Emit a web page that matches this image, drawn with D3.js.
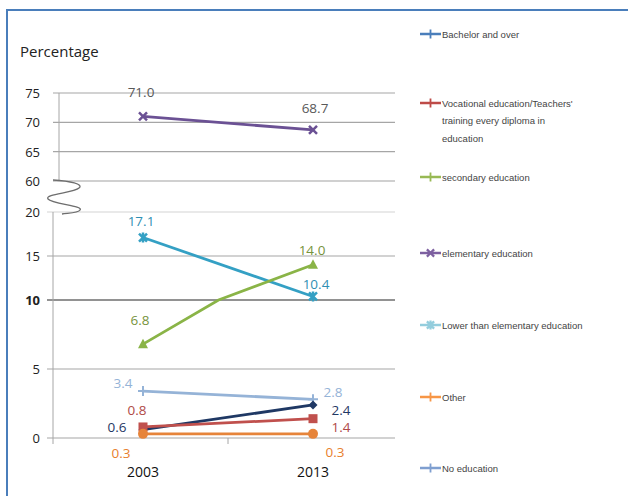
<!DOCTYPE html>
<html><head><meta charset="utf-8">
<script src="https://cdn.jsdelivr.net/npm/d3@7"></script>
<style>body{margin:0;background:#fff}svg{display:block}</style>
</head><body>
<script>
// ---- data ----
const years = ["2003", "2013"];
const seriesNames = ["Bachelor and over", "Vocational education/Teachers' training every diploma in education", "secondary education", "elementary education", "Lower than elementary education", "Other", "No education"];
const bachelor = [0.6, 2.4];
const vocational = [0.8, 1.4];
const secondary = [6.8, 14.0];
const elementary = [71.0, 68.7];
const lowerElem = [17.1, 10.4];
const other = [0.3, 0.3];
const noEdu = [3.4, 2.8];
const upperTicks = [60, 65, 70, 75];
const lowerTicks = [0, 5, 10, 15, 20];

// ---- styles ----
const styles = [
  {vals: bachelor, line: "#1f3864", text: "#1f3864", legend: "#4a7ebb", marker: "diamond", lab: [[-26, 2], [28, 10]]},
  {vals: vocational, line: "#c0504d", text: "#b04a47", legend: "#be4b48", marker: "square", lab: [[-6, -12], [28, 13]]},
  {vals: secondary, line: "#8ab447", text: "#77933c", legend: "#98b954", marker: "triangle", lab: [[-3, -19], [-1, -10]]},
  {vals: elementary, line: "#6b5194", text: "#595959", legend: "#7d60a0", marker: "x", lab: [[-2, -19], [2, -17]]},
  {vals: lowerElem, line: "#34a0c4", text: "#2f8fb3", legend: "#93cddd", marker: "star", lab: [[-2, -12], [3, -7]]},
  {vals: other, line: "#e6843a", text: "#e8802e", legend: "#f79646", marker: "circle", lab: [[-22, 24], [22, 23]]},
  {vals: noEdu, line: "#95b3d7", text: "#95b3d7", legend: "#7f9fd0", marker: "plus", lab: [[-20, -3], [20, -2]]}
];
const font = "'Open Sans', 'DejaVu Sans', sans-serif";

const W = 628, H = 496;
const svg = d3.select("body").append("svg").attr("width", W).attr("height", H);

// border
svg.append("line").attr("x1", 7).attr("x2", W).attr("y1", 10).attr("y2", 10).attr("stroke", "#4a7ebb").attr("stroke-width", 2);
svg.append("line").attr("x1", 7).attr("x2", 7).attr("y1", 9).attr("y2", H).attr("stroke", "#4a7ebb").attr("stroke-width", 2);

// scales (broken axis)
const y = d3.scaleLinear().domain([0, 10, 20, 60, 75]).range([438, 300, 212, 181, 93]);
const x = d3.scaleBand().domain(years).range([58, 398]);
const cx = d => x(d) + x.bandwidth() / 2;

// gridlines
const gl = svg.append("g");
upperTicks.forEach(t => {
  gl.append("line").attr("x1", 53).attr("x2", 395).attr("y1", y(t)).attr("y2", y(t))
    .attr("stroke", t === 60 ? "#d0d0d0" : "#a6a6a6").attr("stroke-width", t === 60 ? 2 : 1.2);
});
lowerTicks.forEach(t => {
  gl.append("line").attr("x1", 47).attr("x2", 395).attr("y1", y(t)).attr("y2", y(t))
    .attr("stroke", t === 10 ? "#6e6e6e" : (t === 20 ? "#d4d4d4" : "#a6a6a6")).attr("stroke-width", t === 10 ? 1.5 : 1.2);
});
// axis lines
gl.append("line").attr("x1", 59).attr("x2", 59).attr("y1", y(75)).attr("y2", y(60)).attr("stroke", "#a6a6a6");
gl.append("line").attr("x1", 53).attr("x2", 53).attr("y1", y(20)).attr("y2", y(0) + 6).attr("stroke", "#a6a6a6");
// middle category tick
gl.append("line").attr("x1", 58 + x.bandwidth()).attr("x2", 58 + x.bandwidth()).attr("y1", y(0)).attr("y2", y(0) + 6).attr("stroke", "#a6a6a6");
// squiggle
gl.append("path").attr("d", "M53,180 C70,181 84,184 79,188 C74,193 44,194 48,199 C52,204 84,206 80,210 C78,213 68,213 62,214")
  .attr("fill", "none").attr("stroke", "#6e6e6e").attr("stroke-width", 1.3);

// tick labels
[...upperTicks, ...lowerTicks].forEach(t => {
  svg.append("text").attr("x", 40).attr("y", y(t) + 5).attr("text-anchor", "end")
    .attr("font-family", font).attr("font-size", 13).attr("fill", "#222")
    .attr("font-weight", t === 10 ? "bold" : "normal").text(t);
});
svg.append("text").attr("x", 20).attr("y", 57).attr("font-family", font).attr("font-size", 15).attr("fill", "#222").text("Percentage");
years.forEach(yr => {
  svg.append("text").attr("x", cx(yr)).attr("y", 477).attr("text-anchor", "middle")
    .attr("font-family", font).attr("font-size", 14).attr("fill", "#111").text(yr);
});

// marker drawer
function marker(g, type, color, px, py, s) {
  s = s || 1;
  const m = g.append("g").attr("transform", `translate(${px},${py}) scale(${s})`);
  if (type === "diamond") m.append("path").attr("d", "M0,-4.5L4.5,0L0,4.5L-4.5,0Z").attr("fill", color);
  else if (type === "square") m.append("rect").attr("x", -4.5).attr("y", -4.5).attr("width", 9).attr("height", 9).attr("fill", color);
  else if (type === "triangle") m.append("path").attr("d", "M0,-5.5L5,4L-5,4Z").attr("fill", color);
  else if (type === "circle") m.append("circle").attr("r", 5).attr("fill", color);
  else if (type === "x") m.append("path").attr("d", "M-4,-4L4,4M4,-4L-4,4").attr("stroke", color).attr("stroke-width", 2.5).attr("fill", "none");
  else if (type === "star") m.append("path").attr("d", "M-4,-4L4,4M4,-4L-4,4M0,-5L0,5").attr("stroke", color).attr("stroke-width", 2.5).attr("fill", "none");
  else if (type === "plus") m.append("path").attr("d", "M-5,0L5,0M0,-5L0,5").attr("stroke", color).attr("stroke-width", 2).attr("fill", "none");
}

// line path that bends at scale break knots
const knots = [10];
function pts(vals) {
  const out = [];
  for (let i = 0; i < vals.length; i++) {
    out.push([cx(years[i]), y(vals[i])]);
    if (i < vals.length - 1) {
      const a = vals[i], b = vals[i + 1];
      knots.forEach(k => {
        if ((a - k) * (b - k) < 0) {
          const t = (k - a) / (b - a);
          const xa = cx(years[i]), xb = cx(years[i + 1]);
          out.push([xa + t * (xb - xa), y(k)]);
        }
      });
    }
  }
  return out;
}
const lineGen = d3.line();
const order = [4, 2, 3, 6, 0, 1, 5];
order.forEach(i => {
  const s = styles[i];
  svg.append("path").attr("d", lineGen(pts(s.vals))).attr("fill", "none").attr("stroke", s.line).attr("stroke-width", 2.8);
});
order.forEach(i => {
  const s = styles[i];
  s.vals.forEach((v, j) => marker(svg, s.marker, s.line, cx(years[j]), y(v)));
});
// data labels
styles.forEach(s => {
  s.vals.forEach((v, j) => {
    svg.append("text").attr("x", cx(years[j]) + s.lab[j][0]).attr("y", y(v) + s.lab[j][1])
      .attr("text-anchor", "middle").attr("font-family", font).attr("font-size", 13.5)
      .attr("fill", s.text).text(v.toFixed(1));
  });
});

// legend
const legendY = [34, 103, 177, 253, 325, 397, 468];
const legendLines = [["Bachelor and over"], ["Vocational education/Teachers'", "training every diploma in", "education"], ["secondary education"], ["elementary education"], ["Lower than elementary education"], ["Other"], ["No education"]];
styles.forEach((s, i) => {
  const ly = legendY[i];
  svg.append("line").attr("x1", 420).attr("x2", 441).attr("y1", ly).attr("y2", ly).attr("stroke", s.legend).attr("stroke-width", 2.5);
  marker(svg, s.marker === "circle" || s.marker === "square" || s.marker === "triangle" || s.marker === "diamond" ? "plus" : s.marker, s.legend, 430.5, ly, 0.9);
  legendLines[i].forEach((t, k) => {
    svg.append("text").attr("x", 442).attr("y", ly + 3.5 + k * 17.5)
      .attr("font-family", "'Liberation Sans', Arial, sans-serif").attr("font-size", 9.5)
      .attr("fill", "#444").text(t);
  });
});
</script>
</body></html>
